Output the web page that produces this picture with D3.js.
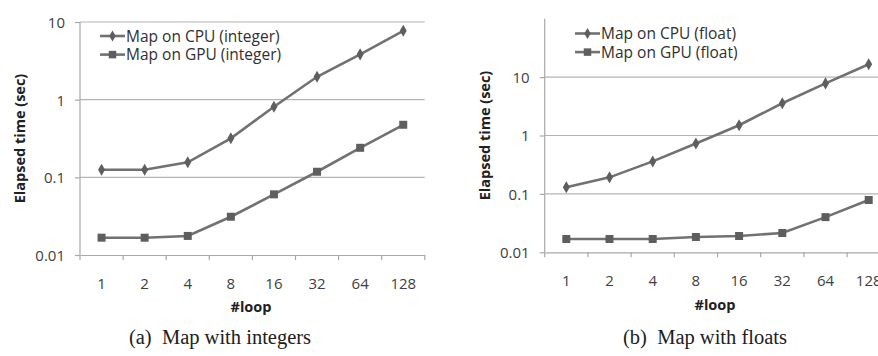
<!DOCTYPE html>
<html><head><meta charset="utf-8">
<script src="https://cdn.jsdelivr.net/npm/d3@7"></script>
<style>body{margin:0;background:#fff;} svg{display:block;}</style>
</head><body>
<svg id="c" width="878" height="356"></svg>
<script>
const loops = ["1","2","4","8","16","32","64","128"];
const cpuInt = [0.125, 0.125, 0.156, 0.318, 0.81, 1.97, 3.83, 7.7];
const gpuInt = [0.0167, 0.0167, 0.0176, 0.0311, 0.0604, 0.118, 0.24, 0.475];
const cpuFloat = [0.13, 0.192, 0.36, 0.73, 1.5, 3.56, 7.8, 16.6];
const gpuFloat = [0.0169, 0.0169, 0.0169, 0.0183, 0.019, 0.0214, 0.040, 0.0787];
const yTicksA = [0.01, 0.1, 1, 10];
const yTicksB = [0.01, 0.1, 1, 10];
const legendA = ["Map on CPU (integer)", "Map on GPU (integer)"];
const legendB = ["Map on CPU (float)", "Map on GPU (float)"];
const captions = ["(a)  Map with integers", "(b)  Map with floats"];

const svg = d3.select("#c");
const LINE = "#717171", MARK = "#5e5e5e", GRID = "#b4b4b4", AXIS = "#a8a8a8";
const SANS = "'Open Sans', Lato, sans-serif";

function panel(cfg) {
  const g = svg.append("g");
  const x = d3.scaleBand().domain(loops).range([cfg.x0, cfg.x0 + cfg.bw * loops.length]);
  const y = d3.scaleLog().domain(cfg.ydom).range([cfg.yb, cfg.yt]);
  // gridlines
  g.selectAll(".grid").data(cfg.yticks.filter(v => v > cfg.ydom[0])).join("line")
    .attr("x1", cfg.x0).attr("x2", cfg.x0 + cfg.bw * loops.length)
    .attr("y1", d => y(d)).attr("y2", d => y(d))
    .attr("stroke", GRID).attr("stroke-width", 1.2);
  // y axis
  const ya = d3.axisLeft(y).tickValues(cfg.yticks).tickFormat(d => String(d)).tickSize(5).tickPadding(10);
  const yg = g.append("g").attr("transform", `translate(${cfg.x0},0)`).call(ya);
  yg.select(".domain").attr("stroke", AXIS).attr("stroke-width", 1.2).attr("d", `M-0,${cfg.yt}V${cfg.yb}`);
  yg.selectAll(".tick line").attr("stroke", AXIS).attr("stroke-width", 1.2);
  yg.selectAll(".tick text").attr("font-family", SANS).attr("font-size", 15).attr("fill", "#404040").attr("dy", "0.36em");
  // x axis
  const xa = d3.axisBottom(x).tickSize(0);
  const xg = g.append("g").attr("transform", `translate(0,${cfg.yb})`).call(xa);
  xg.select(".domain").attr("stroke", AXIS).attr("stroke-width", 1.2);
  xg.selectAll(".tick text").attr("font-family", SANS).attr("font-size", 15).attr("fill", "#404040")
    .attr("y", cfg.xly).attr("dy", "0.36em");
  // x tick marks at band boundaries
  const bounds = loops.map(d => x(d)).concat([x(loops[loops.length - 1]) + x.bandwidth()]);
  xg.selectAll(".bt").data(bounds).join("line")
    .attr("x1", d => d).attr("x2", d => d).attr("y1", 0).attr("y2", 5)
    .attr("stroke", AXIS).attr("stroke-width", 1.2);
  const cx = d => x(d) + x.bandwidth() / 2;
  const line = d3.line().x((v, i) => cx(loops[i])).y(v => y(v));
  // series
  [cfg.cpu, cfg.gpu].forEach((vals, si) => {
    g.append("path").datum(vals).attr("d", line).attr("fill", "none")
      .attr("stroke", LINE).attr("stroke-width", 2.6);
    const sym = d3.symbol().type(si === 0 ? d3.symbolDiamond : d3.symbolSquare).size(si === 0 ? 42 : 64);
    g.selectAll(".m" + si).data(vals).join("path")
      .attr("transform", (v, i) => `translate(${cx(loops[i])},${y(v)})`)
      .attr("d", sym).attr("fill", MARK);
  });
  // legend
  cfg.legend.forEach((t, i) => {
    const ly = cfg.ly + i * 18.6;
    g.append("line").attr("x1", cfg.lx).attr("x2", cfg.lx + 25).attr("y1", ly).attr("y2", ly)
      .attr("stroke", LINE).attr("stroke-width", 2.6);
    g.append("path").attr("transform", `translate(${cfg.lx + 12.5},${ly})`)
      .attr("d", d3.symbol().type(i === 0 ? d3.symbolDiamond : d3.symbolSquare).size(i === 0 ? 36 : 56)())
      .attr("fill", MARK);
    g.append("text").attr("x", cfg.lx + 26).attr("y", ly).attr("dy", "0.36em")
      .attr("font-family", SANS).attr("font-size", 15.5).attr("fill", "#303030").text(t);
  });
  // y title
  g.append("text").attr("transform", `translate(${cfg.ytx},${(cfg.yt + cfg.yb) / 2}) rotate(-90)`)
    .attr("text-anchor", "middle").attr("dy", "0.36em")
    .attr("font-family", SANS).attr("font-weight", "bold").attr("font-size", 14.5).attr("fill", "#202020")
    .text("Elapsed time (sec)");
  // x title
  g.append("text").attr("x", cfg.xtx).attr("y", cfg.xty).attr("text-anchor", "middle").attr("dy", "0.36em")
    .attr("font-family", SANS).attr("font-weight", "bold").attr("font-size", 14.5).attr("fill", "#202020")
    .text("#loop");
  // caption
  g.append("text").attr("x", cfg.capx).attr("y", 337).attr("text-anchor", "middle").attr("dy", "0.34em")
    .attr("font-family", "'Liberation Serif', 'Times New Roman', serif").attr("font-size", 20.5)
    .attr("fill", "#202020").attr("xml:space", "preserve").style("white-space", "pre")
    .text(cfg.caption);
}

panel({x0: 80, bw: 43.1, yt: 22, yb: 255, ydom: [0.01, 10], yticks: yTicksA, xly: 29, xty: 307,
  cpu: cpuInt, gpu: gpuInt, legend: legendA, lx: 100, ly: 36, ytx: 20, xtx: 251, capx: 220, caption: captions[0]});
panel({x0: 544.7, bw: 43.2, yt: 18.7, yb: 252.3, ydom: [0.01, 100], yticks: yTicksB, xly: 28, xty: 305,
  cpu: cpuFloat, gpu: gpuFloat, legend: legendB, lx: 575, ly: 33.5, ytx: 485, xtx: 715, capx: 705, caption: captions[1]});
</script>
</body></html>
